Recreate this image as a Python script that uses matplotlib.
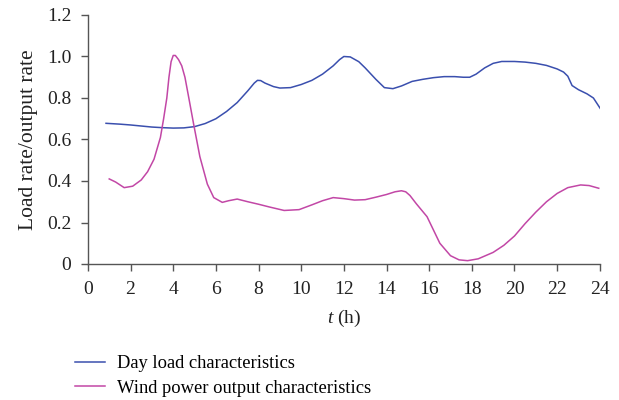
import numpy as np
import matplotlib
matplotlib.use("Agg")
import matplotlib.pyplot as plt

# ========================================================= data

t_load = [0.85, 1.5, 2, 2.5, 3, 3.5, 4, 4.5, 5, 5.5, 6, 6.5, 7, 7.5, 7.8, 7.95, 8.1, 8.3, 8.7,
          9, 9.5, 10, 10.5, 11, 11.5, 11.8, 12, 12.3, 12.7, 13, 13.5, 13.9, 14.3, 14.7, 15.2,
          15.7, 16.2, 16.7, 17.2, 17.6, 17.9, 18.2, 18.6, 19, 19.4, 20, 20.5, 21, 21.5, 22,
          22.3, 22.5, 22.7, 23, 23.4, 23.7, 24.05]
v_load = [0.678, 0.674, 0.670, 0.665, 0.660, 0.657, 0.655, 0.656, 0.662, 0.677, 0.700, 0.735,
          0.778, 0.835, 0.872, 0.885, 0.884, 0.872, 0.855, 0.848, 0.850, 0.865, 0.885, 0.915,
          0.955, 0.985, 1.000, 0.998, 0.975, 0.945, 0.890, 0.850, 0.845, 0.858, 0.880, 0.890,
          0.898, 0.903, 0.903, 0.900, 0.900, 0.915, 0.945, 0.967, 0.976, 0.976, 0.973,
          0.967, 0.957, 0.940, 0.925, 0.905, 0.860, 0.840, 0.820, 0.800, 0.745]

t_wind = [1.0, 1.3, 1.7, 2.1, 2.5, 2.8, 3.1, 3.4, 3.55, 3.7, 3.8, 3.9, 4.0, 4.1, 4.25, 4.4,
          4.55, 4.75, 4.95, 5.25, 5.6, 5.9, 6.3, 6.6, 7.0, 7.5, 8.0, 8.5, 9.2, 9.9, 10.5,
          11.0, 11.5, 12.0, 12.5, 13.0, 13.5, 14.0, 14.4, 14.7, 14.9, 15.1, 15.4, 15.9,
          16.5, 17.0, 17.4, 17.8, 18.3, 19.0, 19.5, 20.0, 20.5, 21.0, 21.5, 22.0, 22.5,
          23.1, 23.5, 23.95]
v_wind = [0.41, 0.395, 0.368, 0.375, 0.405, 0.445, 0.505, 0.610, 0.700, 0.800, 0.900, 0.975,
          1.005, 1.005, 0.985, 0.955, 0.900, 0.790, 0.678, 0.517, 0.385, 0.320, 0.297,
          0.305, 0.313, 0.300, 0.288, 0.275, 0.258, 0.262, 0.285, 0.305, 0.320, 0.315,
          0.308, 0.310, 0.322, 0.335, 0.348, 0.353, 0.348, 0.330, 0.290, 0.228, 0.100,
          0.040, 0.020, 0.016, 0.025, 0.056, 0.090, 0.135, 0.195, 0.250, 0.300, 0.340,
          0.368, 0.381, 0.378, 0.365]

xticks = np.arange(0, 25, 2)
yticks = [0, 0.2, 0.4, 0.6, 0.8, 1.0, 1.2]
ytick_labels = ["0", "0.2", "0.4", "0.6", "0.8", "1.0", "1.2"]

# ========================================================= figure

plt.rcParams["font.family"] = ["Liberation Serif", "DejaVu Serif"]
plt.rcParams["mathtext.fontset"] = "custom"
plt.rcParams["mathtext.it"] = "Liberation Serif:italic"
plt.rcParams["mathtext.rm"] = "Liberation Serif"

fig = plt.figure(figsize=(6.19, 4.00), dpi=100)
ax = fig.add_axes([0.142, 0.34, 0.827, 0.6225])

l1, = ax.plot(t_load, v_load, color="#3a4fae", lw=1.1, label="Day load characteristics")
l2, = ax.plot(t_wind, v_wind, color="#c247a6", lw=1.1, label="Wind power output characteristics")

ax.set_xlim(0, 24)
ax.set_ylim(0, 1.2)
ax.set_xticks(xticks)
ax.set_yticks(yticks)
ax.set_yticklabels(ytick_labels)

for side in ["top", "right"]:
    ax.spines[side].set_visible(False)
for side in ["left", "bottom"]:
    ax.spines[side].set_color("#555555")
    ax.spines[side].set_linewidth(1.0)
ax.tick_params(direction="out", length=5, width=1.0, color="#555555", labelsize=14,
               labelcolor="#222222")
ax.tick_params(axis="x", pad=7)
ax.tick_params(axis="y", pad=7)

ax.set_xlabel(r"$t$ (h)", fontsize=14, color="#222222", labelpad=7)
ax.set_ylabel("Load rate/output rate", fontsize=15.5, color="#222222", labelpad=6)

fig.legend(handles=[l1, l2], loc="upper left", bbox_to_anchor=(0.110, 0.13),
           frameon=False, fontsize=13.3, handlelength=1.6, handletextpad=0.65,
           labelspacing=0.4, borderaxespad=0)

fig.savefig("out.png", dpi=100)
